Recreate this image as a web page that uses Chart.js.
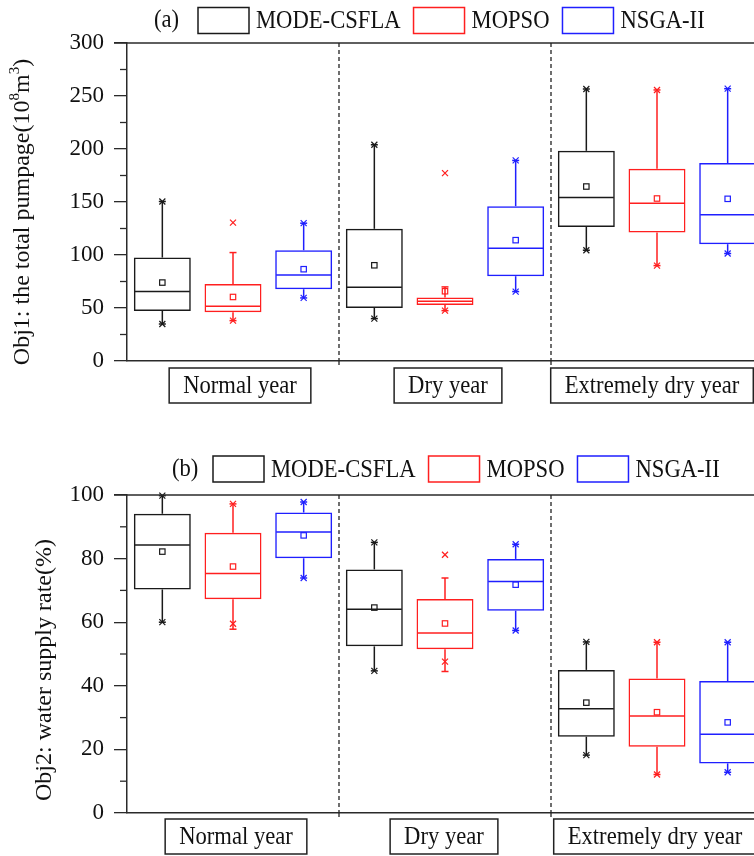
<!DOCTYPE html>
<html>
<head>
<meta charset="utf-8">
<script src="https://cdn.jsdelivr.net/npm/chart.js@4.4.0/dist/chart.umd.min.js"></script>
<style>
  html, body { margin: 0; padding: 0; background: #fff; overflow: hidden; }
  #wrap { position: relative; width: 754px; height: 856px; overflow: hidden; background: #fff; }
  #wrap canvas { position: absolute; left: 0; }
</style>
</head>
<body>
<div id="wrap">
  <canvas id="chartA" width="790" height="420" style="top:0px"></canvas>
  <canvas id="chartB" width="790" height="436" style="top:420px"></canvas>
</div>
<script>
// categories and series
const groups = ['Normal year', 'Dry year', 'Extremely dry year'];
const methods = ['MODE-CSFLA', 'MOPSO', 'NSGA-II'];
const methodColors = ['#1a1a1a', '#ff1f1f', '#1f1fff'];

// Obj1 (total pumpage) - rows: MODE-CSFLA, MOPSO, NSGA-II; columns: groups
const obj1Low    = [[34.9, 40.0, 104.5], [38.1, 47.5, 90.0], [59.5, 65.5, 101.4]];
const obj1Q1     = [[47.2, 50.1, 126.5], [46.0, 52.9, 121.2], [67.7, 80.0, 110.2]];
const obj1Median = [[65.5, 69.6, 154.2], [51.6, 56.4, 148.9], [81.2, 106.4, 137.9]];
const obj1Q3     = [[97.6, 124.7, 198.3], [72.7, 59.8, 181.3], [104.5, 146.1, 186.7]];
const obj1High   = [[150.5, 204.0, 256.6], [102.3, 69.9, 255.7], [130.0, 189.2, 256.9]];
const obj1Mean   = [[74.0, 90.3, 164.6], [60.4, 65.8, 153.3], [86.6, 114.0, 153.0]];
const obj1P1     = [[34.9, 40.0, 104.5], [38.1, 47.5, 90.0], [59.5, 65.5, 101.4]];
const obj1P99    = [[150.5, 204.0, 256.6], [130.6, 177.2, 255.7], [130.0, 189.2, 256.9]];

// Obj2 (water supply rate)
const obj2Low    = [[60.0, 44.7, 18.2], [57.8, 44.5, 12.1], [73.9, 57.4, 12.8]];
const obj2Q1     = [[70.3, 52.4, 24.0], [67.2, 51.5, 20.8], [80.1, 63.6, 15.6]];
const obj2Median = [[84.3, 64.1, 32.8], [75.3, 56.6, 30.5], [88.4, 72.8, 24.8]];
const obj2Q3     = [[94.1, 76.6, 45.0], [88.1, 67.3, 42.3], [94.5, 79.9, 41.5]];
const obj2High   = [[99.8, 85.1, 53.8], [97.2, 73.9, 53.7], [97.8, 84.5, 53.7]];
const obj2Mean   = [[82.2, 64.6, 34.7], [77.5, 59.6, 31.7], [87.3, 71.8, 28.5]];
const obj2P1     = [[60.0, 44.7, 18.2], [59.5, 47.6, 12.1], [73.9, 57.4, 12.8]];
const obj2P99    = [[99.8, 85.1, 53.8], [97.2, 81.2, 53.7], [97.8, 84.5, 53.7]];

// tick labels
const obj1Ticks = [0, 50, 100, 150, 200, 250, 300];
const obj1Minor = [25, 75, 125, 175, 225, 275];
const obj2Ticks = [0, 20, 40, 60, 80, 100];
const obj2Minor = [10, 30, 50, 70, 90];

const serif = '"Liberation Serif", "Times New Roman", serif';
const SQ = 0.87; // the legend / label text in the figure is a bit condensed
Chart.defaults.font.family = serif;

// condensed text helper, returns drawn width
function narrowText(ctx, text, x, y, align) {
    const w = ctx.measureText(text).width * SQ;
    ctx.save();
    ctx.translate(align === 'center' ? x - w / 2 : x, y);
    ctx.scale(SQ, 1);
    ctx.textAlign = 'left';
    ctx.fillText(text, 0, 0);
    ctx.restore();
    return w;
}

// whiskers, caps, medians, means and percentile crosses on top of the floating bars
function boxExtras(st) {
    return {
        id: 'boxExtras',
        afterDatasetsDraw(chart) {
            const ctx = chart.ctx;
            const y = chart.scales.y;
            const py = v => y.getPixelForValue(v);
            const seg = (x1, y1, x2, y2) => {
                ctx.beginPath(); ctx.moveTo(x1, y1); ctx.lineTo(x2, y2); ctx.stroke();
            };
            chart.data.datasets.forEach((ds, m) => {
                chart.getDatasetMeta(m).data.forEach((bar, g) => {
                    const cx = bar.x, half = bar.width / 2;
                    ctx.save();
                    ctx.strokeStyle = ds.borderColor;
                    ctx.lineWidth = 1.5;
                    // whiskers + caps
                    seg(cx, py(st.q3[m][g]), cx, py(st.high[m][g]));
                    seg(cx, py(st.q1[m][g]), cx, py(st.low[m][g]));
                    seg(cx - 3.5, py(st.high[m][g]), cx + 3.5, py(st.high[m][g]));
                    seg(cx - 3.5, py(st.low[m][g]), cx + 3.5, py(st.low[m][g]));
                    // median
                    seg(cx - half + 1, py(st.median[m][g]), cx + half - 1, py(st.median[m][g]));
                    // mean square
                    ctx.lineWidth = 1.2;
                    const my = py(st.mean[m][g]);
                    ctx.strokeRect(cx - 2.7, my - 2.7, 5.4, 5.4);
                    // 1% / 99% crosses
                    [st.p1[m][g], st.p99[m][g]].forEach(v => {
                        const yy = py(v);
                        seg(cx - 3, yy - 3, cx + 3, yy + 3);
                        seg(cx - 3, yy + 3, cx + 3, yy - 3);
                    });
                    ctx.restore();
                });
            });
        }
    };
}

// frame, separators, minor ticks, axis title, legend and group label boxes
function decor(opt) {
    return {
        id: 'decor',
        afterDraw(chart) {
            const ctx = chart.ctx, area = chart.chartArea;
            const x = chart.scales.x, y = chart.scales.y;
            ctx.save();
            ctx.strokeStyle = '#2a2a2a';
            ctx.lineWidth = 1.5;
            // top frame line
            ctx.beginPath(); ctx.moveTo(area.left - 13, area.top); ctx.lineTo(chart.width, area.top); ctx.stroke();
            // minor ticks
            ctx.lineWidth = 1.3;
            opt.minor.forEach(v => {
                const yy = y.getPixelForValue(v);
                ctx.beginPath(); ctx.moveTo(area.left - 7, yy); ctx.lineTo(area.left, yy); ctx.stroke();
            });
            // dashed group separators
            ctx.strokeStyle = '#222';
            for (let i = 1; i < groups.length; i++) {
                const sx = (x.getPixelForValue(i - 1) + x.getPixelForValue(i)) / 2;
                ctx.setLineDash([4, 3]);
                ctx.beginPath(); ctx.moveTo(sx, area.top); ctx.lineTo(sx, area.bottom); ctx.stroke();
                ctx.setLineDash([]);
                ctx.beginPath(); ctx.moveTo(sx, area.bottom); ctx.lineTo(sx, area.bottom + 4); ctx.stroke();
            }
            // y axis title (rotated, with superscripts)
            ctx.save();
            ctx.translate(opt.titleX, opt.titleY);
            ctx.rotate(-Math.PI / 2);
            ctx.fillStyle = '#111';
            ctx.textBaseline = 'middle';
            ctx.textAlign = 'left';
            let total = 0;
            opt.title.forEach(p => {
                ctx.font = (p.sup ? '15px ' : '24px ') + serif;
                total += ctx.measureText(p.t).width;
            });
            let tx = -total / 2;
            opt.title.forEach(p => {
                ctx.font = (p.sup ? '15px ' : '24px ') + serif;
                ctx.fillText(p.t, tx, p.sup ? -8 : 0);
                tx += ctx.measureText(p.t).width;
            });
            ctx.restore();
            // legend
            ctx.fillStyle = '#111';
            ctx.textBaseline = 'middle';
            ctx.font = '26px ' + serif;
            narrowText(ctx, opt.tag, opt.tagX, opt.legendY, 'left');
            let lx = opt.legendX;
            methods.forEach((name, m) => {
                ctx.strokeStyle = methodColors[m];
                ctx.lineWidth = 1.5;
                ctx.strokeRect(lx, opt.legendY - 13, 51, 26);
                lx += 51 + 7;
                ctx.fillStyle = '#111';
                lx += narrowText(ctx, name, lx, opt.legendY + 1, 'left') + 13;
            });
            // group label boxes
            ctx.strokeStyle = '#222';
            ctx.lineWidth = 1.5;
            groups.forEach((label, g) => {
                const cx = x.getPixelForValue(g) + opt.labelShift[g];
                const w = ctx.measureText(label).width * SQ + 28;
                ctx.strokeRect(cx - w / 2, opt.labelTop, w, 35);
                narrowText(ctx, label, cx, opt.labelTop + 18, 'center');
            });
            ctx.restore();
        }
    };
}

function makeChart(id, st, yMax, ticks, axisHeight, padTop, deco) {
    const datasets = methods.map((name, m) => ({
        label: name,
        data: groups.map((_, g) => [st.q1[m][g], st.q3[m][g]]),
        backgroundColor: 'rgba(0,0,0,0)',
        borderColor: methodColors[m],
        borderWidth: 1.5,
        borderSkipped: false,
        barPercentage: 0.806,
        categoryPercentage: 1.0
    }));
    return new Chart(document.getElementById(id), {
        type: 'bar',
        data: { labels: groups, datasets: datasets },
        options: {
            responsive: false,
            animation: false,
            layout: { padding: { left: 0, right: 27, top: padTop, bottom: 0 } },
            plugins: { legend: { display: false }, tooltip: { enabled: false } },
            scales: {
                x: {
                    ticks: { display: false },
                    grid: { display: false },
                    border: { color: '#2a2a2a', width: 1.5 },
                    afterFit: s => { s.height = axisHeight; }
                },
                y: {
                    min: 0,
                    max: yMax,
                    afterBuildTicks: s => { s.ticks = ticks.map(v => ({ value: v })); },
                    ticks: { color: '#111', font: { size: 23 }, padding: 10 },
                    grid: { drawOnChartArea: false, tickLength: 13, color: '#2a2a2a', lineWidth: 1.3 },
                    border: { color: '#2a2a2a', width: 1.5 },
                    afterFit: s => { s.width = 127; }
                }
            }
        },
        plugins: [boxExtras(st), decor(deco)]
    });
}

window.onload = function () {
    makeChart('chartA',
        { low: obj1Low, q1: obj1Q1, median: obj1Median, q3: obj1Q3, high: obj1High, mean: obj1Mean, p1: obj1P1, p99: obj1P99 },
        300, obj1Ticks, 59, 43,
        {
            minor: obj1Minor, tag: '(a)', tagX: 154, legendX: 198, legendY: 20.5,
            labelTop: 368, labelShift: [7, 3, -5],
            titleX: 23, titleY: 212,
            title: [{ t: 'Obj1: the total pumpage(10' }, { t: '8', sup: true }, { t: 'm' }, { t: '3', sup: true }, { t: ')' }]
        });
    makeChart('chartB',
        { low: obj2Low, q1: obj2Q1, median: obj2Median, q3: obj2Q3, high: obj2High, mean: obj2Mean, p1: obj2P1, p99: obj2P99 },
        100, obj2Ticks, 43, 75,
        {
            minor: obj2Minor, tag: '(b)', tagX: 172, legendX: 213, legendY: 49,
            labelTop: 399, labelShift: [3, -1, -2],
            titleX: 45, titleY: 250,
            title: [{ t: 'Obj2: water supply rate(%)' }]
        });
};
</script>
</body>
</html>
